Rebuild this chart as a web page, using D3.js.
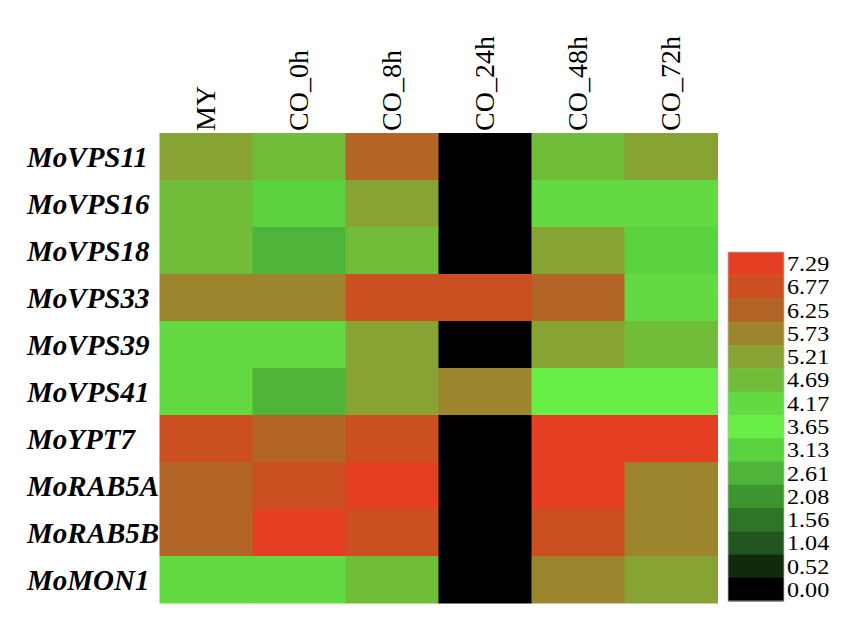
<!DOCTYPE html>
<html>
<head>
<meta charset="utf-8">
<script src="https://cdn.jsdelivr.net/npm/d3@7"></script>
<style>
  html, body { margin: 0; padding: 0; background: #fff; }
  svg { display: block; }
</style>
</head>
<body>
<svg id="chart" width="856" height="628"></svg>
<script>
const columns = ["MY", "CO_0h", "CO_8h", "CO_24h", "CO_48h", "CO_72h"];
const genes = ["MoVPS11", "MoVPS16", "MoVPS18", "MoVPS33", "MoVPS39", "MoVPS41", "MoYPT7", "MoRAB5A", "MoRAB5B", "MoMON1"];

// expression values per gene, in column order
const MoVPS11 = [5.21, 4.69, 6.25, 0.00, 4.69, 5.21];
const MoVPS16 = [4.69, 3.13, 5.21, 0.00, 4.17, 4.17];
const MoVPS18 = [4.69, 2.61, 4.69, 0.00, 5.21, 3.13];
const MoVPS33 = [5.73, 5.73, 6.77, 6.77, 6.25, 4.17];
const MoVPS39 = [4.17, 4.17, 5.21, 0.00, 5.21, 4.69];
const MoVPS41 = [4.17, 2.61, 5.21, 5.73, 3.65, 3.65];
const MoYPT7  = [6.77, 6.25, 6.77, 0.00, 7.29, 7.29];
const MoRAB5A = [6.25, 6.77, 7.29, 0.00, 7.29, 5.73];
const MoRAB5B = [6.25, 7.29, 6.77, 0.00, 6.77, 5.73];
const MoMON1  = [4.17, 4.17, 4.69, 0.00, 5.73, 5.21];

const values = [MoVPS11, MoVPS16, MoVPS18, MoVPS33, MoVPS39, MoVPS41, MoYPT7, MoRAB5A, MoRAB5B, MoMON1];

// legend tick labels (high to low) and their colours
const legendTicks = ["7.29", "6.77", "6.25", "5.73", "5.21", "4.69", "4.17", "3.65", "3.13", "2.61", "2.08", "1.56", "1.04", "0.52", "0.00"];
const legendColors = ["#e43f22", "#cc4f22", "#b26526", "#9c852c", "#86a334", "#71bd39", "#63da42", "#69ee47", "#5ad23f", "#4eb53a", "#3d952f", "#2f7527", "#22561e", "#0f2b0c", "#000000"];

const color = d3.scaleOrdinal(legendTicks.map(Number), legendColors);

const svg = d3.select("#chart");
const serif = "'Liberation Serif', 'Times New Roman', serif";

const x = d3.scaleBand().domain(columns).range([159.5, 717.5]).padding(0);
const y = d3.scaleBand().domain(genes).range([133, 603]).padding(0);

const cells = [];
genes.forEach((g, i) => columns.forEach((c, j) => cells.push({ gene: g, col: c, value: values[i][j] })));

svg.append("g").selectAll("rect").data(cells).join("rect")
  .attr("x", d => x(d.col))
  .attr("y", d => y(d.gene))
  .attr("width", x.bandwidth() + 0.5)
  .attr("height", y.bandwidth() + 0.5)
  .attr("fill", d => color(d.value));

// row labels
svg.append("g").selectAll("text").data(genes).join("text")
  .attr("x", 27)
  .attr("y", d => y(d) + y.bandwidth() / 2 + 10)
  .attr("font-family", serif)
  .attr("font-style", "italic")
  .attr("font-weight", "bold")
  .attr("font-size", 29)
  .attr("fill", "#000")
  .text(d => d);

// column labels (rotated)
svg.append("g").selectAll("text").data(columns).join("text")
  .attr("transform", d => `translate(${x(d) + x.bandwidth() / 2 + 9},131) rotate(-90)`)
  .attr("font-family", serif)
  .attr("font-size", 28)
  .attr("fill", "#000")
  .text(d => d);

// legend
const ly = d3.scaleBand().domain(legendTicks).range([252, 601]).padding(0);
const lg = svg.append("g");
lg.selectAll("rect").data(legendTicks).join("rect")
  .attr("x", 728)
  .attr("y", d => ly(d))
  .attr("width", 56)
  .attr("height", ly.bandwidth() + 0.5)
  .attr("fill", d => color(+d));
lg.append("rect")
  .attr("x", 728).attr("y", 252).attr("width", 56).attr("height", 349)
  .attr("fill", "none").attr("stroke", "#bbb").attr("stroke-width", 0.8);
lg.selectAll("text").data(legendTicks).join("text")
  .attr("transform", d => `translate(787,${ly(d) + ly.bandwidth() / 2 + 7.5}) scale(1.15,1)`)
  .attr("font-family", serif)
  .attr("font-size", 21)
  .attr("fill", "#000")
  .text(d => d);
</script>
</body>
</html>
